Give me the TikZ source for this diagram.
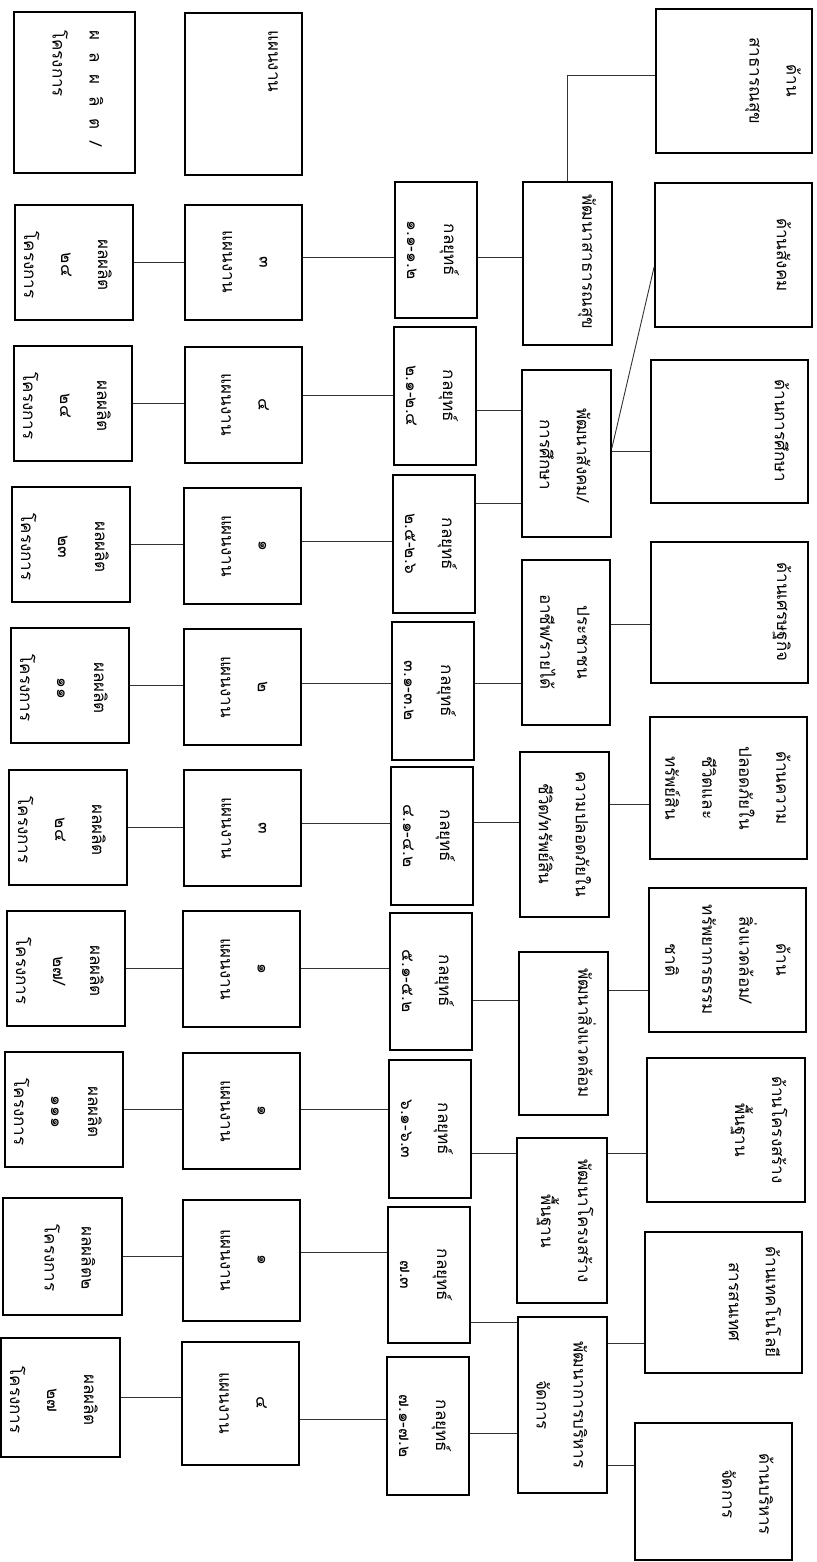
\documentclass[tikz,border=0pt]{standalone}
\usepackage{fontspec}
\newfontfamily\thaifont[Script=Thai]{Loma}
\usetikzlibrary{fit}
\newcommand\mkbox[5]{\node[box,fit={(#2,#3) (#4,#5)}] (#1) {};}
\newcommand\mktxt[4]{\node[txt] (#1) at (#2,#3) {#4};}
\newcommand\gp{\hspace{12pt}}
\begin{document}
\begin{tikzpicture}[x=1pt,y=-1pt,
  box/.style={draw=black, line width=1.8pt, inner sep=0pt},
  txt/.style={rotate=-90, align=center, inner sep=0pt, font=\thaifont\fontsize{17}{37}\selectfont},
  link/.style={draw=black!80, line width=0.9pt}]
\useasboundingbox[fill=white] (0,0) rectangle (816,1562);

% headers
\mkbox{HA}{14}{12}{135}{173}
\mkbox{HB}{185}{13}{302}{175}
\node[txt, align=left, anchor=west] (HAt) at (78,30) {ผ\gp ล\gp ผ\gp ลิ\gp ต\gp /\\โครงการ};
\node[txt, anchor=west] (HBt) at (273,30) {แผนงาน};

% column A : outputs / projects
\mkbox{A1}{15}{205}{133}{320}
\mkbox{A2}{14}{346}{132}{461}
\mkbox{A3}{12}{487}{130}{602}
\mkbox{A4}{11}{628}{129}{743}
\mkbox{A5}{9}{770}{127}{885}
\mkbox{A6}{7}{911}{125}{1026}
\mkbox{A7}{5}{1052}{123}{1167}
\mkbox{A8}{3}{1198}{122}{1315}
\mkbox{A9}{1}{1338}{120}{1457}
\mktxt{A1t}{68}{265}{ผลผลิต\\๒๔\\โครงการ}
\mktxt{A2t}{67}{406}{ผลผลิต\\๒๔\\โครงการ}
\mktxt{A3t}{65}{547}{ผลผลิต\\๒๓\\โครงการ}
\mktxt{A4t}{64}{688}{ผลผลิต\\๑๑\\โครงการ}
\mktxt{A5t}{62}{830}{ผลผลิต\\๒๔\\โครงการ}
\mktxt{A6t}{60}{971}{ผลผลิต\\๒๗/\\โครงการ}
\mktxt{A7t}{58}{1112}{ผลผลิต\\๑๑๑\\โครงการ}
\mktxt{A8t}{70}{1258}{ผลผลิต๒\\โครงการ}
\mktxt{A9t}{54}{1400}{ผลผลิต\\๒๗\\โครงการ}

% column B : plans
\mkbox{B1}{185}{205}{302}{320}
\mkbox{B2}{185}{347}{302}{463}
\mkbox{B3}{184}{488}{301}{604}
\mkbox{B4}{184}{629}{301}{745}
\mkbox{B5}{184}{770}{301}{886}
\mkbox{B6}{183}{911}{300}{1027}
\mkbox{B7}{183}{1053}{300}{1169}
\mkbox{B8}{183}{1200}{300}{1321}
\mkbox{B9}{182}{1342}{299}{1465}
\mktxt{B1t}{245}{262}{๓\\แผนงาน}
\mktxt{B2t}{245}{405}{๔\\แผนงาน}
\mktxt{B3t}{244}{546}{๑\\แผนงาน}
\mktxt{B4t}{244}{687}{๒\\แผนงาน}
\mktxt{B5t}{244}{828}{๓\\แผนงาน}
\mktxt{B6t}{243}{969}{๑\\แผนงาน}
\mktxt{B7t}{243}{1111}{๑\\แผนงาน}
\mktxt{B8t}{243}{1260}{๑\\แผนงาน}
\mktxt{B9t}{243}{1403}{๔\\แผนงาน}

% column C : tactics
\mkbox{C1}{395}{182}{477}{318}
\mkbox{C2}{394}{327}{476}{465}
\mkbox{C3}{393}{475}{475}{613}
\mkbox{C4}{392}{622}{474}{760}
\mkbox{C5}{391}{767}{473}{905}
\mkbox{C6}{390}{913}{472}{1050}
\mkbox{C7}{389}{1060}{471}{1198}
\mkbox{C8}{388}{1207}{470}{1343}
\mkbox{C9}{387}{1357}{469}{1495}
\mktxt{C1t}{433}{250}{กลยุทธ์\\๑.๑-๑.๒}
\mktxt{C2t}{432}{396}{กลยุทธ์\\๒.๑-๒.๔}
\mktxt{C3t}{431}{544}{กลยุทธ์\\๒.๕-๒.๖}
\mktxt{C4t}{430}{691}{กลยุทธ์\\๓.๑-๓.๒}
\mktxt{C5t}{429}{836}{กลยุทธ์\\๔.๑-๔.๒}
\mktxt{C6t}{428}{981}{กลยุทธ์\\๕.๑-๕.๒}
\mktxt{C7t}{427}{1129}{กลยุทธ์\\๖.๑-๖.๓}
\mktxt{C8t}{426}{1275}{กลยุทธ์\\๗.๓}
\mktxt{C9t}{425}{1426}{กลยุทธ์\\๗.๑-๗.๒}

% column D : strategies
\mkbox{D1}{523}{182}{612}{345}
\mkbox{D2}{522}{370}{611}{537}
\mkbox{D3}{522}{560}{610}{725}
\mkbox{D4}{520}{752}{609}{917}
\mkbox{D5}{519}{952}{608}{1115}
\mkbox{D6}{517}{1138}{607}{1303}
\mkbox{D7}{518}{1317}{607}{1493}
\mktxt{D1t}{587}{262}{พัฒนาสาธารณสุข}
\mktxt{D2t}{565}{455}{พัฒนาสังคม/\\การศึกษา}
\mktxt{D3t}{565}{642}{ประชาชน\\อาชีพ/รายได้}
\mktxt{D4t}{565}{834}{ความปลอดภัยใน\\ชีวิต/ทรัพย์สิน}
\mktxt{D5t}{587}{1033}{พัฒนาสิ่งแวดล้อม}
\mktxt{D6t}{565}{1221}{พัฒนาโครงสร้าง\\พื้นฐาน}
\mktxt{D7t}{562}{1405}{พัฒนาการบริหาร\\จัดการ}

% column E : sectors
\mkbox{E1}{656}{9}{812}{153}
\mkbox{E2}{655}{183}{812}{327}
\mkbox{E3}{651}{360}{808}{503}
\mkbox{E4}{651}{542}{808}{683}
\mkbox{E5}{650}{717}{807}{859}
\mkbox{E6}{649}{888}{806}{1032}
\mkbox{E7}{647}{1058}{805}{1202}
\mkbox{E8}{645}{1232}{802}{1373}
\mkbox{E9}{635}{1423}{792}{1560}
\mktxt{E1t}{773}{81}{ด้าน\\สาธารณสุข}
\mktxt{E2t}{784}{255}{ด้านสังคม}
\mktxt{E3t}{782}{431}{ด้านการศึกษา}
\mktxt{E4t}{782}{612}{ด้านเศรษฐกิจ}
\mktxt{E5t}{728}{788}{ด้านความ\\ปลอดภัยใน\\ชีวิตและ\\ทรัพย์สิน}
\mktxt{E6t}{728}{960}{ด้าน\\สิ่งแวดล้อม/\\ทรัพยากรธรรม\\ชาติ}
\mktxt{E7t}{759}{1130}{ด้านโครงสร้าง\\พื้นฐาน}
\mktxt{E8t}{755}{1302}{ด้านเทคโนโลยี\\สารสนเทศ}
\mktxt{E9t}{748}{1494}{ด้านบริหาร\\จัดการ}

% A -> B
\foreach \i in {1,...,9}{\draw[link] (A\i.east) -- (A\i.east -| B\i.west);}

% B -> C
\draw[link] (B1.east |- 0,257) -- (C1.west |- 0,257);
\draw[link] (B2.east |- 0,395) -- (C2.west |- 0,395);
\draw[link] (B3.east |- 0,541) -- (C3.west |- 0,541);
\draw[link] (B4.east |- 0,683) -- (C4.west |- 0,683);
\draw[link] (B5.east |- 0,823) -- (C5.west |- 0,823);
\draw[link] (B6.east |- 0,968) -- (C6.west |- 0,968);
\draw[link] (B7.east |- 0,1109) -- (C7.west |- 0,1109);
\draw[link] (B8.east |- 0,1252) -- (C8.west |- 0,1252);
\draw[link] (B9.east |- 0,1419) -- (C9.west |- 0,1419);

% C -> D
\draw[link] (C1.east |- 0,257) -- (D1.west |- 0,257);
\draw[link] (C2.east |- 0,410) -- (D2.west |- 0,410);
\draw[link] (C3.east |- 0,503) -- (D2.west |- 0,503);
\draw[link] (C4.east |- 0,683) -- (D3.west |- 0,683);
\draw[link] (C5.east |- 0,822) -- (D4.west |- 0,822);
\draw[link] (C6.east |- 0,1000) -- (D5.west |- 0,1000);
\draw[link] (C7.east |- 0,1153) -- (D6.west |- 0,1153);
\draw[link] (C8.east |- 0,1322) -- (D7.west |- 0,1322);
\draw[link] (C9.east |- 0,1433) -- (D7.west |- 0,1433);

% D -> E
\draw[link] (D1.north) |- (E1.west |- 0,75);
\draw[link] (D2.east |- 0,448) -- (E2.west |- 0,267);
\draw[link] (D2.east |- 0,451) -- (E3.west |- 0,451);
\draw[link] (D3.east |- 0,624) -- (E4.west |- 0,624);
\draw[link] (D4.east |- 0,804) -- (E5.west |- 0,804);
\draw[link] (D5.east |- 0,990) -- (E6.west |- 0,990);
\draw[link] (D6.east |- 0,1153) -- (E7.west |- 0,1153);
\draw[link] (D7.east |- 0,1343) -- (E8.west |- 0,1343);
\draw[link] (D7.east |- 0,1465) -- (E9.west |- 0,1465);
\end{tikzpicture}
\end{document}
